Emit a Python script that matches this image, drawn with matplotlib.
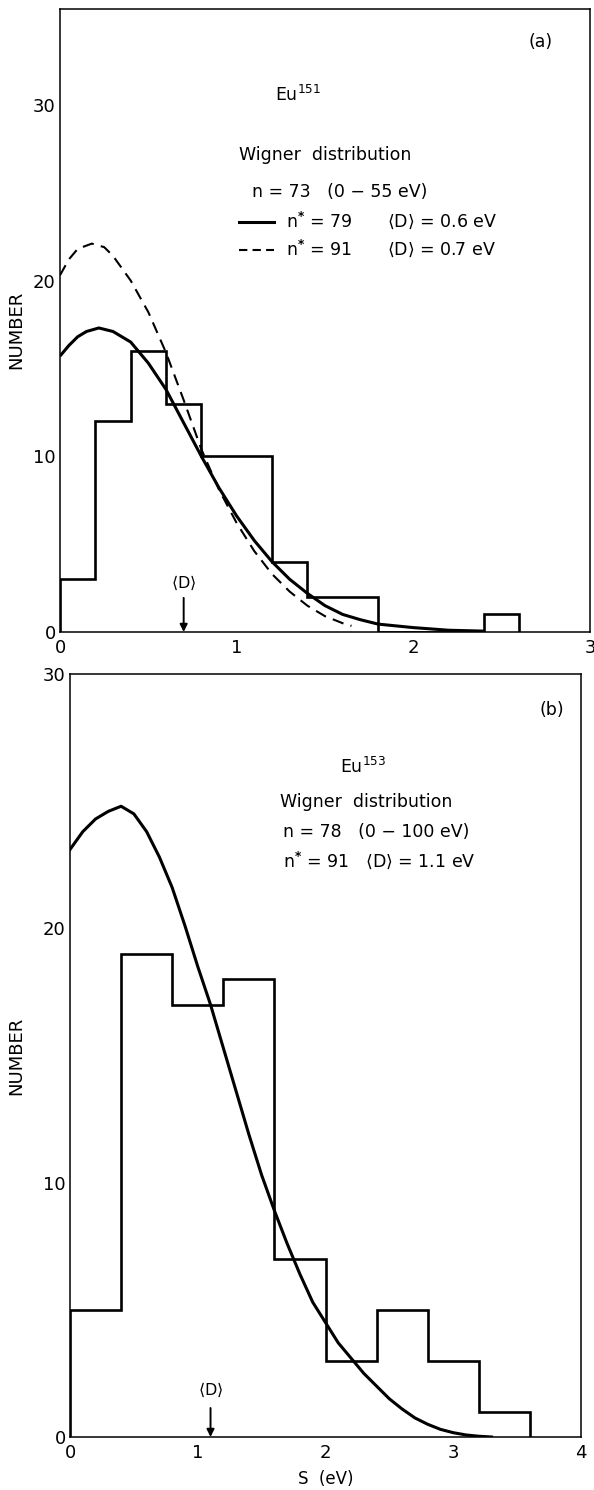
import matplotlib
matplotlib.use("Agg")
import matplotlib.pyplot as plt

# ---------------------------------------------------------------------------
# data
# ---------------------------------------------------------------------------
# (a) Eu151, bins of 0.2 eV
a_edges = [0.0, 0.2, 0.4, 0.6, 0.8, 1.0, 1.2, 1.4, 1.6, 1.8, 2.0, 2.2, 2.4, 2.6]
a_counts = [3, 12, 16, 13, 10, 10, 4, 2, 2, 0, 0, 0, 1]

a_solid_s = [0.0, 0.05, 0.1, 0.15, 0.22, 0.3, 0.4, 0.5, 0.6, 0.7, 0.8, 0.9, 1.0,
             1.1, 1.2, 1.3, 1.4, 1.5, 1.6, 1.7, 1.8, 2.0, 2.2, 2.4]
a_solid_n = [15.7, 16.3, 16.8, 17.1, 17.3, 17.1, 16.5, 15.3, 13.8, 11.9, 10.0, 8.2, 6.6,
             5.2, 4.0, 3.0, 2.2, 1.5, 1.0, 0.7, 0.45, 0.25, 0.1, 0.05]

a_dash_s = [0.0, 0.05, 0.1, 0.18, 0.25, 0.3, 0.4, 0.5, 0.6, 0.7, 0.8, 0.9, 1.0,
            1.1, 1.2, 1.3, 1.4, 1.5, 1.6, 1.65]
a_dash_n = [20.3, 21.2, 21.8, 22.1, 21.9, 21.4, 20.0, 18.2, 15.9, 13.2, 10.4, 8.1, 6.2,
            4.6, 3.3, 2.3, 1.5, 0.9, 0.5, 0.35]
a_mean_d = 0.7

# (b) Eu153, bins of 0.4 eV
b_edges = [0.0, 0.4, 0.8, 1.2, 1.6, 2.0, 2.4, 2.8, 3.2, 3.6]
b_counts = [5, 19, 17, 18, 7, 3, 5, 3, 1]

b_curve_s = [0.0, 0.1, 0.2, 0.3, 0.4, 0.5, 0.6, 0.7, 0.8, 0.9, 1.0, 1.1, 1.2, 1.3,
             1.4, 1.5, 1.6, 1.7, 1.8, 1.9, 2.0, 2.1, 2.2, 2.3, 2.4, 2.5, 2.6, 2.7,
             2.8, 2.9, 3.0, 3.1, 3.2, 3.3]
b_curve_n = [23.1, 23.8, 24.3, 24.6, 24.8, 24.5, 23.8, 22.8, 21.6, 20.1, 18.5, 17.0,
             15.3, 13.6, 11.9, 10.3, 8.9, 7.6, 6.4, 5.3, 4.5, 3.7, 3.1, 2.5, 2.0, 1.5,
             1.1, 0.75, 0.5, 0.3, 0.17, 0.08, 0.03, 0.0]
b_mean_d = 1.1

yticks = [0, 10, 20, 30]

FS_TXT = 12.5
FS_TICK = 13
LAB_FONT = ["Liberation Sans Narrow", "DejaVu Sans"]

fig = plt.figure(figsize=(5.94, 14.90), dpi=100)
ax_a = fig.add_axes([60 / 594, 1 - 632 / 1490, 530 / 594, 623 / 1490])
ax_b = fig.add_axes([70 / 594, 1 - 1437 / 1490, 511 / 594, 763 / 1490])


def style_axes(ax, xmax, ymax, xminor, top_ticks, lab_xy):
    ax.set_xlim(0, xmax)
    ax.set_ylim(0, ymax)
    for sp in ax.spines.values():
        sp.set_linewidth(1.1)
    ax.set_yticks(yticks)
    ax.set_yticklabels([str(v) for v in yticks])
    ax.set_xticks(list(range(xmax + 1)))
    ax.set_xticklabels([str(v) for v in range(xmax + 1)])
    ax.tick_params(axis="both", which="major", length=0, labelsize=FS_TICK)
    ax.tick_params(axis="y", which="major", pad=3)
    ax.tick_params(axis="x", which="major", pad=5)
    ax.set_yticks([10, 20], minor=True)
    ax.set_xticks(xminor, minor=True)
    ax.tick_params(axis="y", which="minor", direction="in", length=13, width=1.1,
                   left=True, right=True)
    ax.tick_params(axis="x", which="minor", direction="in", length=13, width=1.1,
                   bottom=True, top=top_ticks)
    ax.set_ylabel("NUMBER", fontsize=13, family=LAB_FONT)
    ax.yaxis.set_label_coords(*lab_xy)


def mean_arrow(ax, x, y0, ylab):
    ax.annotate("", xy=(x, 0), xytext=(x, y0),
                arrowprops=dict(arrowstyle="-|>", color="black", lw=1.4,
                                mutation_scale=11, shrinkA=0, shrinkB=0))
    ax.text(x, ylab, r"$\langle\mathrm{D}\rangle$", ha="center", va="center",
            fontsize=11.5)


# ---------------- panel (a) ----------------
style_axes(ax_a, 3, 35.45, [1, 2], False, (-0.066, 0.485))
ax_a.stairs(a_counts, a_edges, color="black", lw=1.9, baseline=0)
ax_a.plot(a_solid_s, a_solid_n, color="black", lw=2.2, solid_capstyle="butt")
ax_a.plot(a_dash_s, a_dash_n, color="black", lw=1.5, dashes=(5.5, 3.5))
mean_arrow(ax_a, a_mean_d, 1.94, 2.8)

ta = ax_a.transAxes
ax_a.text(0.906, 0.947, "(a)", transform=ta, ha="center", va="center", fontsize=FS_TXT)
ax_a.text(0.406, 0.862, r"Eu$^{151}$", transform=ta, ha="left", va="center", fontsize=FS_TXT)
ax_a.text(0.338, 0.766, "Wigner  distribution", transform=ta, ha="left", va="center",
          fontsize=FS_TXT)
ax_a.text(0.362, 0.706, "n = 73   (0 − 55 eV)", transform=ta, ha="left", va="center",
          fontsize=FS_TXT)
ax_a.plot([0.338, 0.404], [0.658, 0.658], transform=ta, color="black", lw=2.2)
ax_a.plot([0.338, 0.404], [0.613, 0.613], transform=ta, color="black", lw=1.5,
          dashes=(4, 2.5))
ax_a.text(0.426, 0.658, r"n$^{\mathbf{*}}$ = 79", transform=ta, ha="left", va="center",
          fontsize=FS_TXT)
ax_a.text(0.617, 0.658, r"$\langle\mathrm{D}\rangle$ = 0.6 eV", transform=ta, ha="left",
          va="center", fontsize=FS_TXT)
ax_a.text(0.426, 0.613, r"n$^{\mathbf{*}}$ = 91", transform=ta, ha="left", va="center",
          fontsize=FS_TXT)
ax_a.text(0.617, 0.613, r"$\langle\mathrm{D}\rangle$ = 0.7 eV", transform=ta, ha="left",
          va="center", fontsize=FS_TXT)

# ---------------- panel (b) ----------------
style_axes(ax_b, 4, 30, [1, 2, 3], True, (-0.088, 0.5))
ax_b.stairs(b_counts, b_edges, color="black", lw=1.9, baseline=0)
ax_b.plot(b_curve_s, b_curve_n, color="black", lw=2.2)
mean_arrow(ax_b, b_mean_d, 1.14, 1.85)
ax_b.set_xlabel("S  (eV)", fontsize=12, labelpad=6)

tb = ax_b.transAxes
ax_b.text(0.943, 0.953, "(b)", transform=tb, ha="center", va="center", fontsize=FS_TXT)
ax_b.text(0.528, 0.878, r"Eu$^{153}$", transform=tb, ha="left", va="center", fontsize=FS_TXT)
ax_b.text(0.411, 0.832, "Wigner  distribution", transform=tb, ha="left", va="center",
          fontsize=FS_TXT)
ax_b.text(0.417, 0.793, "n = 78   (0 − 100 eV)", transform=tb, ha="left", va="center",
          fontsize=FS_TXT)
ax_b.text(0.417, 0.756, r"n$^{\mathbf{*}}$ = 91   $\langle\mathrm{D}\rangle$ = 1.1 eV",
          transform=tb, ha="left", va="center", fontsize=FS_TXT)

fig.savefig("out.png", dpi=100)
